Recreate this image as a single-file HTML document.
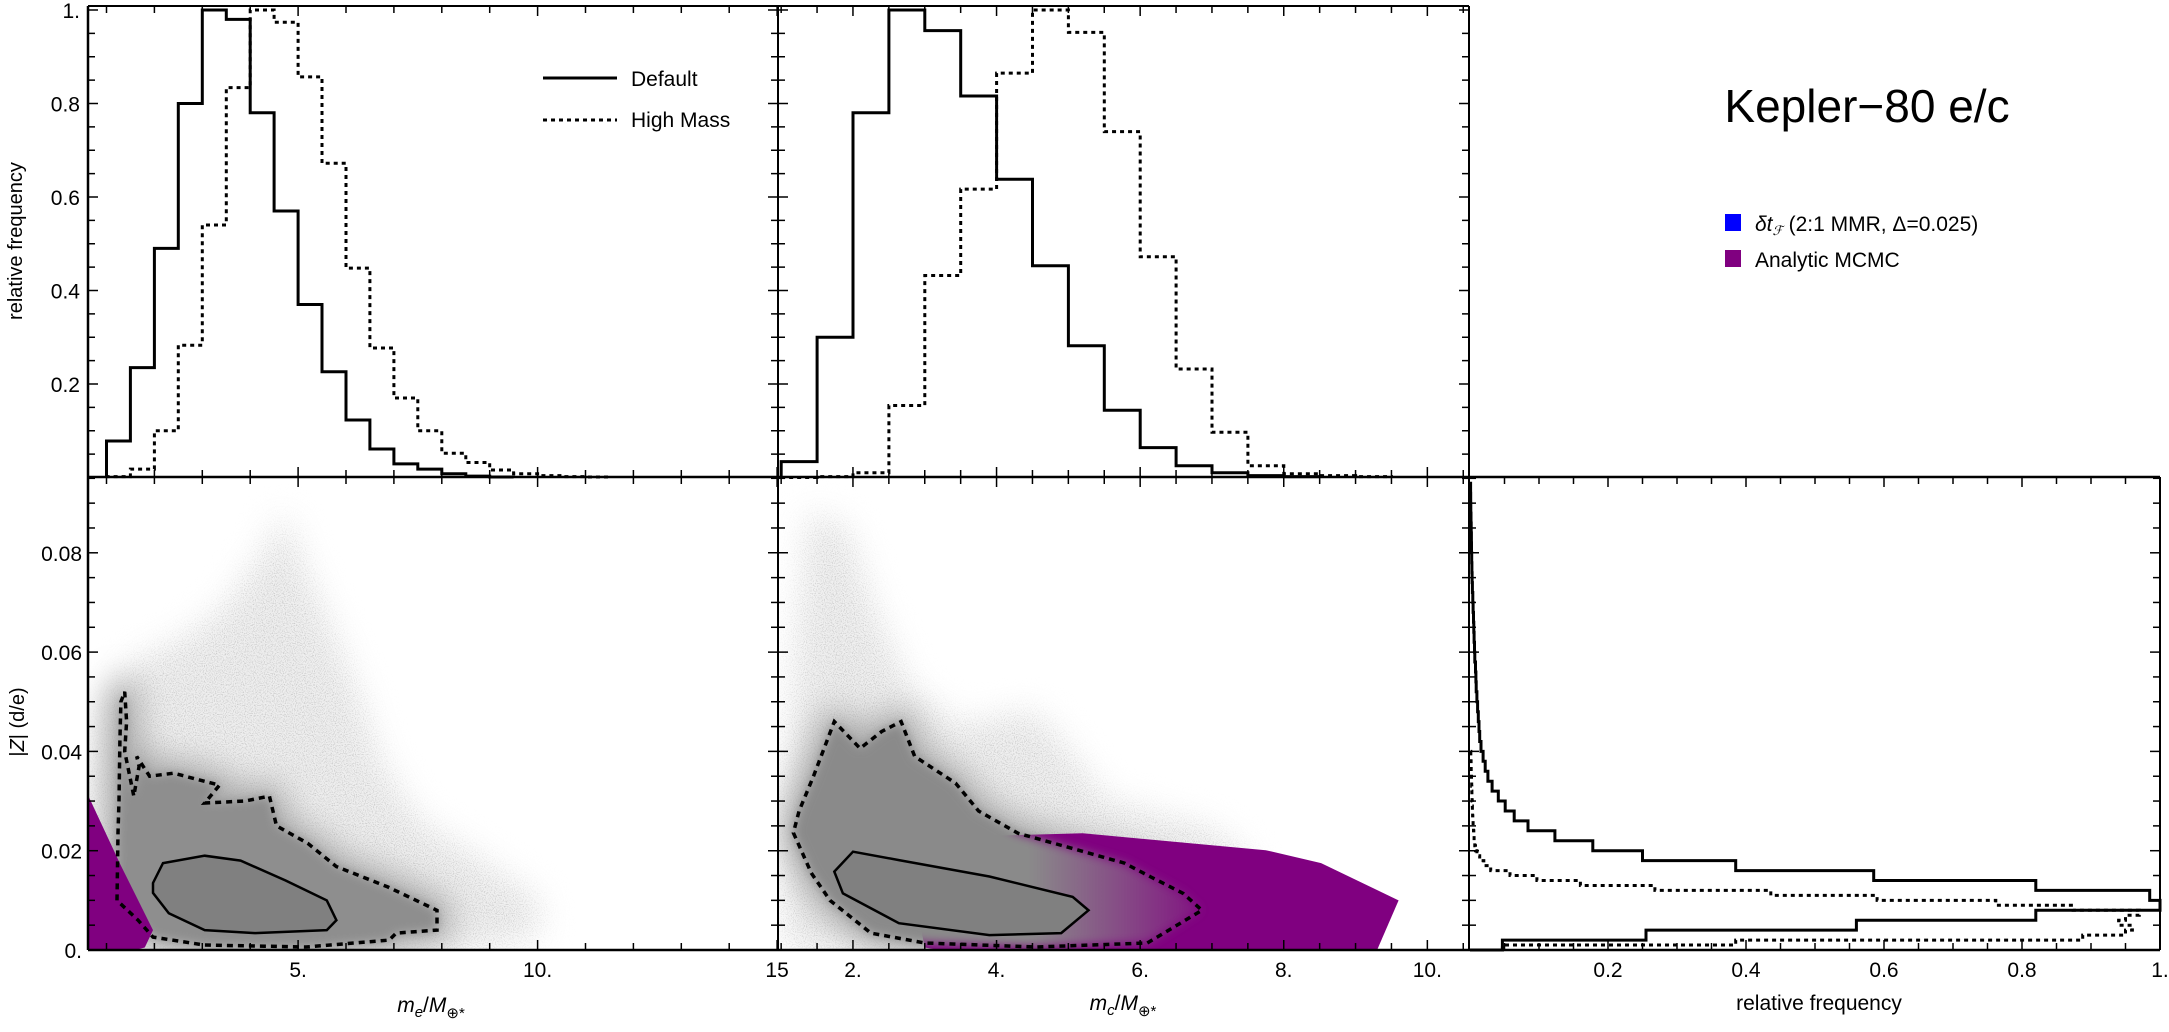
<!DOCTYPE html>
<html><head><meta charset="utf-8">
<style>
html,body{margin:0;padding:0;background:#fff}
body{width:2169px;height:1027px;overflow:hidden}
svg text{font-family:"Liberation Sans",Arial,sans-serif;fill:#000}
</style></head>
<body>
<svg id="fig" width="2169" height="1027" viewBox="0 0 2169 1027" xmlns="http://www.w3.org/2000/svg">
<defs>
  <filter id="blurS" x="-20%" y="-20%" width="140%" height="140%"><feGaussianBlur stdDeviation="5"/></filter>
  <filter id="blurL" x="-30%" y="-30%" width="160%" height="160%"><feGaussianBlur stdDeviation="16"/></filter>
  <filter id="speckle" x="-30%" y="-30%" width="160%" height="160%">
    <feGaussianBlur in="SourceGraphic" stdDeviation="16" result="b"/>
    <feTurbulence type="fractalNoise" baseFrequency="0.9" numOctaves="1" seed="3" result="n"/>
    <feColorMatrix in="n" type="matrix" values="0 0 0 0 0.55  0 0 0 0 0.55  0 0 0 0 0.55  0 0 0 3 -1.4" result="dots"/>
    <feComposite in="dots" in2="b" operator="in"/>
  </filter>
  <clipPath id="clipBL"><rect x="88" y="477" width="690" height="473"/></clipPath>
  <clipPath id="clipBM"><rect x="779" y="477" width="690" height="473"/></clipPath>
  <linearGradient id="fadeMid" gradientUnits="userSpaceOnUse" x1="1030" y1="0" x2="1230" y2="0">
    <stop offset="0" stop-color="#8a8a8a" stop-opacity="1"/>
    <stop offset="1" stop-color="#8a8a8a" stop-opacity="0"/>
  </linearGradient>
</defs>
<g id="clouds-bl" clip-path="url(#clipBL)"></g>
<g id="clouds-bm" clip-path="url(#clipBM)"></g>
<g id="marks"></g>
<g id="axes"></g>

<text x="22" y="241" font-size="20" text-anchor="middle" transform="rotate(-90 22 241)">relative frequency</text>
<text x="24" y="722" font-size="20" text-anchor="middle" transform="rotate(-90 24 722)">|<tspan font-style="italic">Z</tspan>| (d/e)</text>
<text x="431" y="1012" font-size="21" text-anchor="middle"><tspan font-style="italic">m</tspan><tspan font-style="italic" font-size="15" dy="5">e</tspan><tspan dy="-5">/</tspan><tspan font-style="italic">M</tspan><tspan font-size="15" dy="6">⊕*</tspan></text>
<text x="1123" y="1010" font-size="21" text-anchor="middle"><tspan font-style="italic">m</tspan><tspan font-style="italic" font-size="15" dy="5">c</tspan><tspan dy="-5">/</tspan><tspan font-style="italic">M</tspan><tspan font-size="15" dy="6">⊕*</tspan></text>
<text x="1819" y="1010" font-size="21" text-anchor="middle">relative frequency</text>

<g>
  <line x1="543" y1="78" x2="617" y2="78" stroke="#000" stroke-width="3"/>
  <text x="631" y="86" font-size="21">Default</text>
  <line x1="543" y1="120" x2="617" y2="120" stroke="#000" stroke-width="3" stroke-dasharray="4 4"/>
  <text x="631" y="127" font-size="21">High Mass</text>
</g>
<text x="1867" y="122" font-size="46" text-anchor="middle">Kepler−80 e/c</text>
<g>
  <rect x="1725" y="214" width="16" height="17" fill="#0000ff"/>
  <text x="1755" y="231" font-size="21"><tspan font-style="italic">δt</tspan><tspan font-style="italic" font-size="13" dy="4">ℱ</tspan><tspan dy="-4"> (2:1 MMR, Δ=0.025)</tspan></text>
  <rect x="1725" y="250" width="16" height="17" fill="#800080"/>
  <text x="1755" y="267" font-size="21">Analytic MCMC</text>
</g>

<script>
// ---------- data ----------
const histStart = 1.0;
const histWidth = 0.5;
const solidE = [0.078,0.235,0.49,0.80,1.0,0.98,0.78,0.57,0.37,0.226,0.123,0.061,0.029,0.018,0.008,0.003,0.001];
const dottedE = [0.002,0.018,0.10,0.283,0.54,0.834,1.0,0.974,0.857,0.672,0.448,0.277,0.17,0.10,0.052,0.032,0.016,0.008,0.004,0.002,0.001];
const solidC = [0.034,0.30,0.78,1.0,0.956,0.816,0.638,0.453,0.282,0.144,0.064,0.025,0.010,0.004,0.002];
const dottedC = [0,0.002,0.01,0.154,0.432,0.617,0.865,1.0,0.952,0.74,0.472,0.232,0.097,0.025,0.008,0.004,0.002];
const zBinSolid = 0.002;
const solidZ = [0.047,0.255,0.56,0.82,1.0,0.985,0.82,0.585,0.385,0.25,0.178,0.123,0.084,0.064,0.051,0.041,0.032,0.026,0.022,0.019,0.016,0.014,0.013,0.012,0.011,0.010,0.009,0.0085,0.008,0.007,0.0065,0.006,0.0055,0.005,0.0045,0.004,0.0035,0.003,0.0028,0.0025,0.0022,0.002,0.0018,0.0015,0.0012,0.001,0.0008];
const zBinDotted = 0.001;
const dottedZ = [0.047,0.385,0.888,0.95,0.96,0.94,0.95,0.97,0.874,0.762,0.59,0.436,0.268,0.16,0.097,0.058,0.03,0.02,0.014,0.01,0.008,0.007,0.006,0.0055,0.005,0.0045,0.004,0.0038,0.0035,0.0033,0.003,0.0028,0.0026,0.0024,0.0022,0.002,0.0018,0.0016,0.0014,0.0012];
const purpleE = [[0.6,0.0315],[1.3,0.017],[1.97,0.004],[1.8,0.0005],[1.6,0],[0.6,0]];
const haloE = [[0.8,0.002],[0.8,0.035],[1.0,0.05],[1.6,0.058],[2.5,0.062],[3.4,0.068],[4.3,0.08],[4.7,0.088],[5.2,0.075],[5.8,0.062],[6.3,0.05],[6.7,0.038],[7.5,0.026],[8.8,0.018],[10,0.010],[10,0.003],[8.5,0],[1,0]];
const dashE = [[1.22,0.010],[1.24,0.0236],[1.26,0.030],[1.28,0.042],[1.3,0.05],[1.38,0.052],[1.42,0.046],[1.38,0.040],[1.57,0.031],[1.68,0.037],[1.63,0.039],[1.9,0.035],[2.4,0.0356],[3.36,0.0332],[3.05,0.0296],[3.9,0.030],[4.4,0.031],[4.55,0.025],[5.2,0.0215],[5.8,0.0168],[6.87,0.0127],[7.9,0.008],[7.9,0.004],[7.05,0.0034],[6.9,0.002],[5.17,0.0006],[3.04,0.001],[1.97,0.0026],[1.66,0.006]];
const innerE = [[1.97,0.0135],[2.18,0.0175],[3.05,0.019],[3.8,0.018],[4.74,0.014],[5.6,0.010],[5.8,0.006],[5.6,0.004],[4.1,0.0034],[3.05,0.004],[2.3,0.0074],[1.97,0.0115]];
const purpleC = [[3.0,0.0005],[2.8,0.015],[2.9,0.021],[3.4,0.0228],[5.2,0.0235],[7.75,0.0201],[8.52,0.0175],[9.6,0.010],[9.3,0],[3.2,0]];
const haloC = [[1.05,0.002],[1.1,0.035],[1.2,0.06],[1.4,0.088],[1.9,0.085],[2.3,0.068],[2.8,0.052],[3.5,0.045],[4.5,0.048],[5.0,0.04],[5.5,0.03],[7,0.024],[7.5,0.018],[7.5,0],[1.05,0]];
const dashC = [[1.17,0.0236],[1.42,0.0155],[1.68,0.010],[2.25,0.0034],[3.0,0.0014],[4.55,0.0006],[6.1,0.0014],[6.86,0.008],[6.6,0.0114],[6.15,0.0147],[5.78,0.0175],[4.8,0.0215],[4.3,0.0235],[3.75,0.028],[3.43,0.0336],[2.86,0.039],[2.67,0.046],[2.4,0.044],[2.1,0.0406],[1.74,0.046],[1.45,0.035],[1.25,0.028]];
const innerC = [[1.74,0.0158],[2.0,0.0198],[2.64,0.0181],[3.9,0.0148],[5.06,0.0107],[5.28,0.008],[4.9,0.0034],[3.9,0.003],[2.64,0.0054],[1.86,0.0114]];
const freqTicks = [0.2,0.4,0.6,0.8,1.0];
const freqTickLabels = ["0.2","0.4","0.6","0.8","1."];
const zTicks = [0,0.02,0.04,0.06,0.08];
const zTickLabels = ["0.","0.02","0.04","0.06","0.08"];
const meTicks = [5,10,15];
const meTickLabels = ["5.","10.","15"];
const mcTicks = [2,4,6,8,10];
const mcTickLabels = ["2.","4.","6.","8.","10."];

// ---------- scales ----------
const xE = m => 106.5 + (m - 1) * 47.9;
const xC = m => 779 + (m - 0.97) * 71.8;
const yF = v => 477.5 - v * 467.5;
const yZ = z => 950 - z * 4965;
const xR = f => 1470 + f * 690;

const NS = "http://www.w3.org/2000/svg";
function mk(parent, tag, attrs) {
  const el = document.createElementNS(NS, tag);
  for (const k in attrs) el.setAttribute(k, attrs[k]);
  parent.appendChild(el);
  return el;
}
const marks = document.getElementById('marks');
const axes = document.getElementById('axes');
const cbl = document.getElementById('clouds-bl');
const cbm = document.getElementById('clouds-bm');
const poly = (arr, fx, fy) => arr.map(p => fx(p[0]).toFixed(1) + ',' + fy(p[1]).toFixed(1)).join(' ');

// ---------- clouds ----------
let el;
el = mk(cbl, 'polygon', {points: poly(haloE, xE, yZ), fill: '#d0d0d0', opacity: 0.35, filter: 'url(#blurL)'});


el = mk(cbl, 'polygon', {points: poly(haloE, xE, yZ), fill: '#000', filter: 'url(#speckle)'});


el = mk(cbl, 'polygon', {points: poly(dashE, xE, yZ), fill: '#a8a8a8', stroke: '#a8a8a8', 'stroke-width': 26, 'stroke-linejoin': 'round', filter: 'url(#blurL)'});


el = mk(cbl, 'polygon', {points: poly(dashE, xE, yZ), fill: '#8e8e8e', filter: 'url(#blurS)'});


el = mk(cbl, 'polygon', {points: poly(purpleE, xE, yZ), fill: '#800080'});


el = mk(cbl, 'polygon', {points: poly(innerE, xE, yZ), fill: '#808080'});



el = mk(cbm, 'polygon', {points: poly(haloC, xC, yZ), fill: '#d0d0d0', opacity: 0.35, filter: 'url(#blurL)'});


el = mk(cbm, 'polygon', {points: poly(haloC, xC, yZ), fill: '#000', filter: 'url(#speckle)'});


el = mk(cbm, 'polygon', {points: poly(dashC, xC, yZ), fill: '#a8a8a8', stroke: '#a8a8a8', 'stroke-width': 26, 'stroke-linejoin': 'round', filter: 'url(#blurL)'});


el = mk(cbm, 'polygon', {points: poly(purpleC, xC, yZ), fill: '#800080'});


el = mk(cbm, 'polygon', {points: poly(dashC, xC, yZ), fill: 'url(#fadeMid)', filter: 'url(#blurS)'});


el = mk(cbm, 'polygon', {points: poly(innerC, xC, yZ), fill: '#808080'});



// contours
el = mk(cbl, 'polygon', {points: poly(dashE, xE, yZ), fill: 'none', stroke: '#000', 'stroke-width': 3.5, 'stroke-dasharray': '6 5'});


el = mk(cbl, 'polygon', {points: poly(innerE, xE, yZ), fill: 'none', stroke: '#000', 'stroke-width': 2.5});


el = mk(cbm, 'polygon', {points: poly(dashC, xC, yZ), fill: 'none', stroke: '#000', 'stroke-width': 3.5, 'stroke-dasharray': '6 5'});


el = mk(cbm, 'polygon', {points: poly(innerC, xC, yZ), fill: 'none', stroke: '#000', 'stroke-width': 2.5});



// ---------- histograms ----------
function stepH(vals, start, w, fx, fy) {
  let d = 'M' + fx(start) + ',' + fy(0);
  vals.forEach((v, i) => {
    d += ' L' + fx(start + i * w).toFixed(1) + ',' + fy(v).toFixed(1);
    d += ' L' + fx(start + (i + 1) * w).toFixed(1) + ',' + fy(v).toFixed(1);
  });
  d += ' L' + fx(start + vals.length * w).toFixed(1) + ',' + fy(0);
  return d;
}
function stepV(vals, w, fx, fy) {
  let d = 'M' + fx(0) + ',' + fy(0);
  vals.forEach((v, i) => {
    d += ' L' + fx(v).toFixed(1) + ',' + fy(i * w).toFixed(1);
    d += ' L' + fx(v).toFixed(1) + ',' + fy((i + 1) * w).toFixed(1);
  });
  d += ' L' + fx(0) + ',' + fy(vals.length * w).toFixed(1);
  return d;
}
el = mk(marks, 'path', {d: stepH(solidE, histStart, histWidth, xE, yF), fill: 'none', stroke: '#000', 'stroke-width': 3});


el = mk(marks, 'path', {d: stepH(dottedE, histStart, histWidth, xE, yF), fill: 'none', stroke: '#000', 'stroke-width': 3, 'stroke-dasharray': '4 4'});


el = mk(marks, 'path', {d: stepH(solidC, histStart, histWidth, xC, yF), fill: 'none', stroke: '#000', 'stroke-width': 3});


el = mk(marks, 'path', {d: stepH(dottedC, histStart, histWidth, xC, yF), fill: 'none', stroke: '#000', 'stroke-width': 3, 'stroke-dasharray': '4 4'});


el = mk(marks, 'path', {d: stepV(solidZ, zBinSolid, xR, yZ), fill: 'none', stroke: '#000', 'stroke-width': 3});


el = mk(marks, 'path', {d: stepV(dottedZ, zBinDotted, xR, yZ), fill: 'none', stroke: '#000', 'stroke-width': 3, 'stroke-dasharray': '4 4'});



// ---------- axes ----------
function line(x1, y1, x2, y2, w) {
  const l = mk(axes, 'line', {x1: x1, y1: y1, x2: x2, y2: y2, stroke: '#000', 'stroke-width': w || 1.5});
  
  
  return l;
}
line(88, 6, 1469, 6, 2);
line(88, 6, 88, 950, 2.5);
line(778, 6, 778, 950, 2);
line(1469, 6, 1469, 950, 2);
line(88, 477, 2160, 477, 2.5);
line(88, 950, 2160, 950, 2.5);
line(2160, 477, 2160, 950, 2);

function tick(x1, y1, x2, y2) {
  const t = mk(axes, 'line', {x1: x1, y1: y1, x2: x2, y2: y2, stroke: '#000', 'stroke-width': 1.5});
  
  
}
for (let m = 1; m <= 15; m++) {
  const x = xE(m), L = (m % 5 === 0) ? 10 : 7;
  tick(x, 6, x, 6 + L); tick(x, 477 - L, x, 477 + L); tick(x, 950 - L, x, 950);
}
for (let m = 1; m <= 10.5; m += 0.5) {
  const x = xC(m), L = (m % 2 === 0) ? 10 : 7;
  if (x > 1466) continue;
  tick(x, 6, x, 6 + L); tick(x, 477 - L, x, 477 + L); tick(x, 950 - L, x, 950);
}
for (let f = 0.05; f <= 1.001; f += 0.05) {
  const x = xR(f), L = (Math.round(f * 100) % 20 === 0) ? 10 : 7;
  tick(x, 477, x, 477 + L); tick(x, 950 - L, x, 950);
}
for (let v = 0.05; v <= 1.001; v += 0.05) {
  const y = yF(v), L = (Math.round(v * 100) % 20 === 0) ? 10 : 7;
  tick(88, y, 88 + L, y); tick(778 - L, y, 778 + L, y); tick(1469 - L, y, 1469, y);
}
for (let z = 0.005; z <= 0.0951; z += 0.005) {
  const y = yZ(z), L = (Math.round(z * 1000) % 20 === 0) ? 10 : 7;
  tick(88, y, 88 + L, y); tick(778 - L, y, 778 + L, y); tick(1469 - L, y, 1469 + L, y); tick(2160 - L, y, 2160, y);
}

function label(x, y, s, anchor, name) {
  const t = mk(axes, 'text', {x: x, y: y, 'font-size': 21, 'text-anchor': anchor});
  t.textContent = s;
  
  
}
freqTicks.forEach((v, i) => label(80, yF(v) + 8, freqTickLabels[i], 'end', 'y-tick-label-freq'));
zTicks.forEach((v, i) => label(82, yZ(v) + 8, zTickLabels[i], 'end', 'y-tick-label-z'));
meTicks.forEach((v, i) => label(xE(v), 977, meTickLabels[i], 'middle', 'x-tick-label-me'));
mcTicks.forEach((v, i) => label(xC(v), 977, mcTickLabels[i], 'middle', 'x-tick-label-mc'));
freqTicks.forEach((v, i) => label(xR(v), 977, freqTickLabels[i], 'middle', 'x-tick-label-freq'));
</script>
</svg>
</body></html>
